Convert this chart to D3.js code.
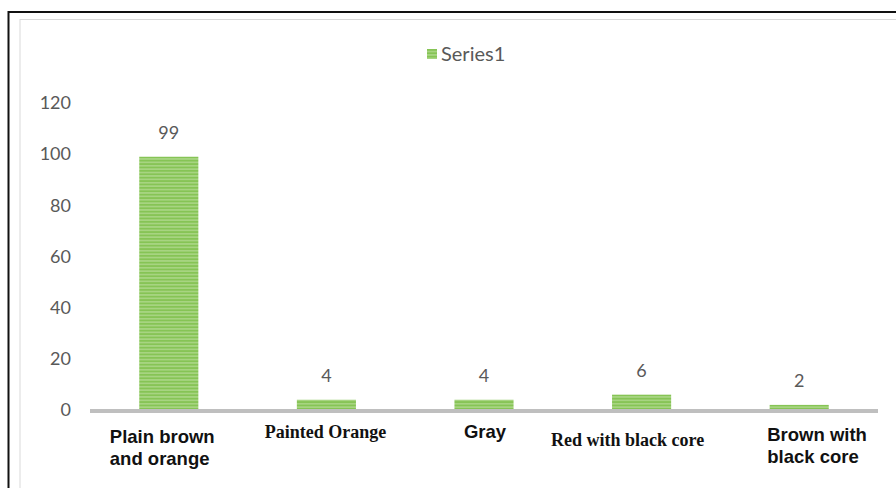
<!DOCTYPE html>
<html>
<head>
<meta charset="utf-8">
<script src="https://cdn.jsdelivr.net/npm/d3@7"></script>
<style>
  body { margin: 0; background: #fff; }
  .tick text { font-family: Lato, "Open Sans", sans-serif; }
</style>
</head>
<body>
<div id="chart"></div>
<script>
// chart data
var categories = ["Plain brown and orange", "Painted Orange", "Gray", "Red with black core", "Brown with black core"];
var values = [99, 4, 4, 6, 2];
var yTicks = [0, 20, 40, 60, 80, 100, 120];
var seriesName = "Series1";

// label lines (as shown under each bar)
var labelLines = [["Plain brown", "and orange"], ["Painted Orange"], ["Gray"], ["Red with black core"], ["Brown with", "black core"]];

var svgWidth = 896;
var svgHeight = 488;

var svg = d3.select("#chart")
  .append("svg")
  .attr("width", svgWidth)
  .attr("height", svgHeight);

// striped fill for the bars
var defs = svg.append("defs");
var pat = defs.append("pattern")
  .attr("id", "stripes")
  .attr("patternUnits", "userSpaceOnUse")
  .attr("width", 8)
  .attr("height", 3.4);
pat.append("rect").attr("width", 8).attr("height", 3.4).attr("fill", "#86c455");
pat.append("rect").attr("y", 2).attr("width", 8).attr("height", 1.1).attr("fill", "#b9dd98");

// outer frame lines
svg.append("rect")
  .attr("x", 8.5).attr("y", 12)
  .attr("width", 900).attr("height", 500)
  .attr("fill", "none").attr("stroke", "#111").attr("stroke-width", 2);
svg.append("rect")
  .attr("x", 20).attr("y", 19.5)
  .attr("width", 900).attr("height", 500)
  .attr("fill", "none").attr("stroke", "#d9d9d9").attr("stroke-width", 1);

// scales
var x = d3.scaleBand()
  .domain(categories)
  .range([90, 878])
  .paddingInner(0.625)
  .paddingOuter(0.3125);

var y = d3.scaleLinear()
  .domain([0, 120])
  .range([410, 103]);

// y axis (labels only)
var yAxis = d3.axisLeft(y).tickValues(yTicks).tickSize(0).tickPadding(0);
var yg = svg.append("g")
  .attr("transform", "translate(71,0)")
  .call(yAxis);
yg.select(".domain").remove();
yg.selectAll("text")
  .attr("font-size", 18)
  .attr("fill", "#595959");

// bars
svg.append("g")
  .selectAll("rect")
  .data(values)
  .enter()
  .append("rect")
  .attr("x", (d, i) => x(categories[i]))
  .attr("y", d => y(d))
  .attr("width", x.bandwidth())
  .attr("height", d => y(0) - y(d))
  .attr("fill", "url(#stripes)");

// x axis line
svg.append("line")
  .attr("x1", 90).attr("x2", 878)
  .attr("y1", y(0) + 1).attr("y2", y(0) + 1)
  .attr("stroke", "#bfbfbf")
  .attr("stroke-width", 4);

// value labels
svg.append("g")
  .selectAll("text")
  .data(values)
  .enter()
  .append("text")
  .attr("x", (d, i) => x(categories[i]) + x.bandwidth() / 2)
  .attr("y", d => y(d) - 18)
  .attr("text-anchor", "middle")
  .attr("font-family", "Lato, 'Open Sans', sans-serif")
  .attr("font-size", 18)
  .attr("fill", "#595959")
  .text(d => d);

// category labels - mixed fonts like the original
var labelStyle = [
  { font: "'Liberation Sans', Arial, sans-serif", size: 18.5, anchor: "start", dx: -59, dy: 33 },
  { font: "'Liberation Serif', 'Times New Roman', serif", size: 18, anchor: "middle", dx: -1, dy: 28 },
  { font: "'Liberation Sans', Arial, sans-serif", size: 18.5, anchor: "middle", dx: 1, dy: 28 },
  { font: "'Liberation Serif', 'Times New Roman', serif", size: 18, anchor: "middle", dx: -14, dy: 36 },
  { font: "'Liberation Sans', Arial, sans-serif", size: 18.5, anchor: "start", dx: -32, dy: 31 }
];

categories.forEach(function(c, i) {
  var s = labelStyle[i];
  var t = svg.append("text")
    .attr("x", x(c) + x.bandwidth() / 2 + s.dx)
    .attr("y", y(0) + s.dy)
    .attr("text-anchor", s.anchor)
    .attr("font-family", s.font)
    .attr("font-size", s.size)
    .attr("font-weight", "bold")
    .attr("fill", "#111");
  labelLines[i].forEach(function(line, j) {
    t.append("tspan")
      .attr("x", x(c) + x.bandwidth() / 2 + s.dx)
      .attr("dy", j === 0 ? 0 : 22)
      .text(line);
  });
});

// legend
var legend = svg.append("g").attr("transform", "translate(427,49)");
legend.append("rect")
  .attr("width", 10).attr("height", 10)
  .attr("fill", "url(#stripes)");
legend.append("text")
  .attr("x", 14).attr("y", 12)
  .attr("font-family", "Lato, 'Open Sans', sans-serif")
  .attr("font-size", 20)
  .attr("fill", "#595959")
  .text(seriesName);
</script>
</body>
</html>
